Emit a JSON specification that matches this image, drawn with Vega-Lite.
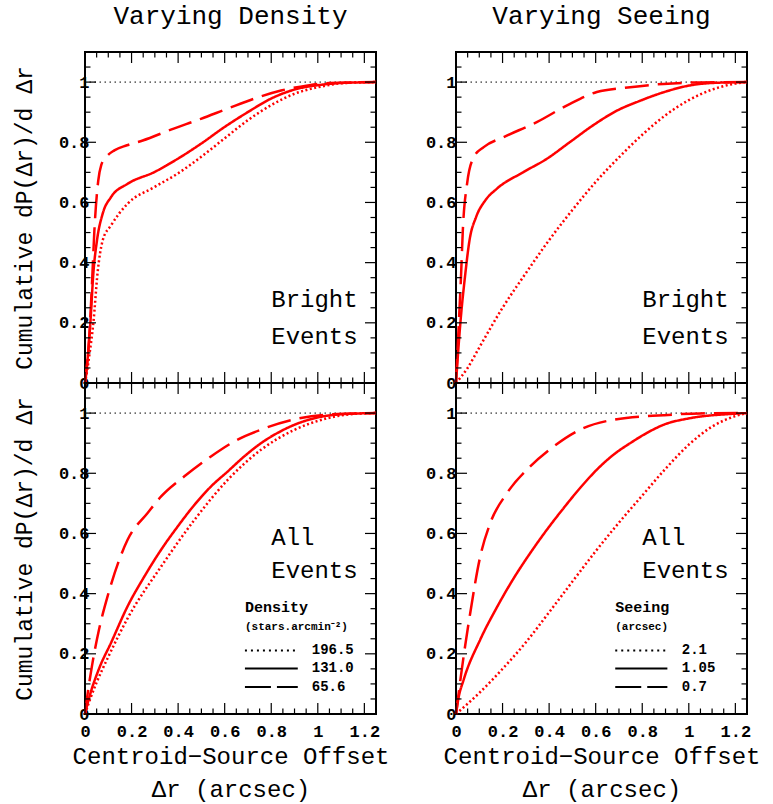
{
  "$schema": "https://vega.github.io/schema/vega-lite/v6.json",
  "background": "white",
  "padding": {"left": 12, "top": 2, "right": 5, "bottom": 5},
  "config": {"view": {"stroke": "black", "strokeWidth": 2}, "font": "Liberation Mono",
    "axis": {"domain": false, "grid": false, "ticks": false, "labelColor": "black", "titleColor": "black", "labelFlush": false, "labelOverlap": false}},
  "columns": 2,
  "spacing": {"row": 0, "column": 80},
  "bounds": "flush",
  "datasets": {
    "xmajor": [{"v": 0}, {"v": 0.2}, {"v": 0.4}, {"v": 0.6}, {"v": 0.8}, {"v": 1}, {"v": 1.2}],
    "xminor": [{"v": 0.05}, {"v": 0.1}, {"v": 0.15}, {"v": 0.25}, {"v": 0.3}, {"v": 0.35}, {"v": 0.45}, {"v": 0.5}, {"v": 0.55}, {"v": 0.65}, {"v": 0.7}, {"v": 0.75}, {"v": 0.85}, {"v": 0.9}, {"v": 0.95}, {"v": 1.05}, {"v": 1.1}, {"v": 1.15}],
    "ymajor": [{"v": 0}, {"v": 0.2}, {"v": 0.4}, {"v": 0.6}, {"v": 0.8}, {"v": 1}],
    "yminor": [{"v": 0.05}, {"v": 0.1}, {"v": 0.15}, {"v": 0.25}, {"v": 0.3}, {"v": 0.35}, {"v": 0.45}, {"v": 0.5}, {"v": 0.55}, {"v": 0.65}, {"v": 0.7}, {"v": 0.75}, {"v": 0.85}, {"v": 0.9}, {"v": 0.95}, {"v": 1.05}],
    "density_bright": [
      {"x": 0, "y": 0, "series": "131.0"}, {"x": 0.01, "y": 0.07, "series": "131.0"}, {"x": 0.023, "y": 0.2, "series": "131.0"}, {"x": 0.036, "y": 0.366, "series": "131.0"}, {"x": 0.0515, "y": 0.474, "series": "131.0"}, {"x": 0.076, "y": 0.563, "series": "131.0"}, {"x": 0.112, "y": 0.618, "series": "131.0"}, {"x": 0.183, "y": 0.662, "series": "131.0"}, {"x": 0.298, "y": 0.701, "series": "131.0"}, {"x": 0.398, "y": 0.745, "series": "131.0"}, {"x": 0.498, "y": 0.795, "series": "131.0"}, {"x": 0.598, "y": 0.85, "series": "131.0"}, {"x": 0.699, "y": 0.9, "series": "131.0"}, {"x": 0.799, "y": 0.945, "series": "131.0"}, {"x": 0.899, "y": 0.975, "series": "131.0"}, {"x": 1.014, "y": 0.991, "series": "131.0"}, {"x": 1.1, "y": 0.997, "series": "131.0"}, {"x": 1.25, "y": 1.0, "series": "131.0"},
      {"x": 0, "y": 0, "series": "65.6"}, {"x": 0.01, "y": 0.07, "series": "65.6"}, {"x": 0.018, "y": 0.149, "series": "65.6"}, {"x": 0.03, "y": 0.33, "series": "65.6"}, {"x": 0.04, "y": 0.502, "series": "65.6"}, {"x": 0.057, "y": 0.673, "series": "65.6"}, {"x": 0.07, "y": 0.725, "series": "65.6"}, {"x": 0.09, "y": 0.75, "series": "65.6"}, {"x": 0.126, "y": 0.773, "series": "65.6"}, {"x": 0.18, "y": 0.79, "series": "65.6"}, {"x": 0.248, "y": 0.806, "series": "65.6"}, {"x": 0.369, "y": 0.842, "series": "65.6"}, {"x": 0.498, "y": 0.878, "series": "65.6"}, {"x": 0.613, "y": 0.912, "series": "65.6"}, {"x": 0.727, "y": 0.945, "series": "65.6"}, {"x": 0.842, "y": 0.972, "series": "65.6"}, {"x": 0.957, "y": 0.989, "series": "65.6"}, {"x": 1.05, "y": 0.997, "series": "65.6"}, {"x": 1.25, "y": 1.0, "series": "65.6"},
      {"x": 0, "y": 0, "series": "196.5"}, {"x": 0.01, "y": 0.045, "series": "196.5"}, {"x": 0.02, "y": 0.1, "series": "196.5"}, {"x": 0.036, "y": 0.2, "series": "196.5"}, {"x": 0.054, "y": 0.366, "series": "196.5"}, {"x": 0.076, "y": 0.474, "series": "196.5"}, {"x": 0.112, "y": 0.524, "series": "196.5"}, {"x": 0.183, "y": 0.596, "series": "196.5"}, {"x": 0.298, "y": 0.651, "series": "196.5"}, {"x": 0.398, "y": 0.696, "series": "196.5"}, {"x": 0.498, "y": 0.751, "series": "196.5"}, {"x": 0.598, "y": 0.812, "series": "196.5"}, {"x": 0.699, "y": 0.873, "series": "196.5"}, {"x": 0.799, "y": 0.923, "series": "196.5"}, {"x": 0.899, "y": 0.961, "series": "196.5"}, {"x": 1.014, "y": 0.985, "series": "196.5"}, {"x": 1.1, "y": 0.996, "series": "196.5"}, {"x": 1.25, "y": 1.0, "series": "196.5"}
    ],
    "seeing_bright": [
      {"x": 0, "y": 0, "series": "1.05"}, {"x": 0.0185, "y": 0.197, "series": "1.05"}, {"x": 0.04, "y": 0.363, "series": "1.05"}, {"x": 0.058, "y": 0.474, "series": "1.05"}, {"x": 0.0866, "y": 0.552, "series": "1.05"}, {"x": 0.126, "y": 0.607, "series": "1.05"}, {"x": 0.176, "y": 0.646, "series": "1.05"}, {"x": 0.29, "y": 0.701, "series": "1.05"}, {"x": 0.39, "y": 0.745, "series": "1.05"}, {"x": 0.49, "y": 0.801, "series": "1.05"}, {"x": 0.59, "y": 0.857, "series": "1.05"}, {"x": 0.691, "y": 0.905, "series": "1.05"}, {"x": 0.791, "y": 0.938, "series": "1.05"}, {"x": 0.891, "y": 0.966, "series": "1.05"}, {"x": 1.005, "y": 0.989, "series": "1.05"}, {"x": 1.1, "y": 0.997, "series": "1.05"}, {"x": 1.25, "y": 1.0, "series": "1.05"},
      {"x": 0, "y": 0, "series": "0.7"}, {"x": 0.012, "y": 0.197, "series": "0.7"}, {"x": 0.022, "y": 0.363, "series": "0.7"}, {"x": 0.029, "y": 0.502, "series": "0.7"}, {"x": 0.0475, "y": 0.662, "series": "0.7"}, {"x": 0.076, "y": 0.75, "series": "0.7"}, {"x": 0.119, "y": 0.784, "series": "0.7"}, {"x": 0.204, "y": 0.817, "series": "0.7"}, {"x": 0.347, "y": 0.867, "series": "0.7"}, {"x": 0.49, "y": 0.928, "series": "0.7"}, {"x": 0.605, "y": 0.967, "series": "0.7"}, {"x": 0.748, "y": 0.983, "series": "0.7"}, {"x": 0.891, "y": 0.994, "series": "0.7"}, {"x": 1.05, "y": 0.999, "series": "0.7"}, {"x": 1.25, "y": 1.0, "series": "0.7"},
      {"x": 0, "y": 0, "series": "2.1"}, {"x": 0.05, "y": 0.05, "series": "2.1"}, {"x": 0.1, "y": 0.118, "series": "2.1"}, {"x": 0.2, "y": 0.25, "series": "2.1"}, {"x": 0.3, "y": 0.365, "series": "2.1"}, {"x": 0.4, "y": 0.475, "series": "2.1"}, {"x": 0.5, "y": 0.575, "series": "2.1"}, {"x": 0.6, "y": 0.668, "series": "2.1"}, {"x": 0.7, "y": 0.75, "series": "2.1"}, {"x": 0.8, "y": 0.825, "series": "2.1"}, {"x": 0.9, "y": 0.89, "series": "2.1"}, {"x": 1.0, "y": 0.94, "series": "2.1"}, {"x": 1.1, "y": 0.975, "series": "2.1"}, {"x": 1.2, "y": 0.995, "series": "2.1"}, {"x": 1.25, "y": 1.0, "series": "2.1"}
    ],
    "density_all": [
      {"x": 0, "y": 0, "series": "131.0"}, {"x": 0.02, "y": 0.06, "series": "131.0"}, {"x": 0.06, "y": 0.15, "series": "131.0"}, {"x": 0.112, "y": 0.237, "series": "131.0"}, {"x": 0.183, "y": 0.358, "series": "131.0"}, {"x": 0.255, "y": 0.457, "series": "131.0"}, {"x": 0.327, "y": 0.546, "series": "131.0"}, {"x": 0.398, "y": 0.623, "series": "131.0"}, {"x": 0.47, "y": 0.695, "series": "131.0"}, {"x": 0.541, "y": 0.756, "series": "131.0"}, {"x": 0.613, "y": 0.806, "series": "131.0"}, {"x": 0.684, "y": 0.856, "series": "131.0"}, {"x": 0.756, "y": 0.9, "series": "131.0"}, {"x": 0.827, "y": 0.934, "series": "131.0"}, {"x": 0.899, "y": 0.961, "series": "131.0"}, {"x": 0.985, "y": 0.983, "series": "131.0"}, {"x": 1.1, "y": 0.996, "series": "131.0"}, {"x": 1.25, "y": 1.0, "series": "131.0"},
      {"x": 0, "y": 0, "series": "65.6"}, {"x": 0.01, "y": 0.06, "series": "65.6"}, {"x": 0.03, "y": 0.16, "series": "65.6"}, {"x": 0.06, "y": 0.28, "series": "65.6"}, {"x": 0.097, "y": 0.391, "series": "65.6"}, {"x": 0.183, "y": 0.579, "series": "65.6"}, {"x": 0.269, "y": 0.668, "series": "65.6"}, {"x": 0.327, "y": 0.723, "series": "65.6"}, {"x": 0.427, "y": 0.79, "series": "65.6"}, {"x": 0.541, "y": 0.856, "series": "65.6"}, {"x": 0.656, "y": 0.912, "series": "65.6"}, {"x": 0.756, "y": 0.945, "series": "65.6"}, {"x": 0.899, "y": 0.979, "series": "65.6"}, {"x": 1.04, "y": 0.995, "series": "65.6"}, {"x": 1.25, "y": 1.0, "series": "65.6"},
      {"x": 0, "y": 0, "series": "196.5"}, {"x": 0.02, "y": 0.045, "series": "196.5"}, {"x": 0.05, "y": 0.105, "series": "196.5"}, {"x": 0.1, "y": 0.19, "series": "196.5"}, {"x": 0.183, "y": 0.318, "series": "196.5"}, {"x": 0.327, "y": 0.49, "series": "196.5"}, {"x": 0.47, "y": 0.645, "series": "196.5"}, {"x": 0.613, "y": 0.778, "series": "196.5"}, {"x": 0.756, "y": 0.878, "series": "196.5"}, {"x": 0.899, "y": 0.944, "series": "196.5"}, {"x": 1.042, "y": 0.983, "series": "196.5"}, {"x": 1.15, "y": 0.997, "series": "196.5"}, {"x": 1.25, "y": 1.0, "series": "196.5"}
    ],
    "seeing_all": [
      {"x": 0, "y": 0, "series": "1.05"}, {"x": 0.01, "y": 0.05, "series": "1.05"}, {"x": 0.033, "y": 0.114, "series": "1.05"}, {"x": 0.104, "y": 0.247, "series": "1.05"}, {"x": 0.176, "y": 0.355, "series": "1.05"}, {"x": 0.247, "y": 0.45, "series": "1.05"}, {"x": 0.319, "y": 0.535, "series": "1.05"}, {"x": 0.39, "y": 0.612, "series": "1.05"}, {"x": 0.462, "y": 0.684, "series": "1.05"}, {"x": 0.533, "y": 0.751, "series": "1.05"}, {"x": 0.605, "y": 0.812, "series": "1.05"}, {"x": 0.677, "y": 0.862, "series": "1.05"}, {"x": 0.748, "y": 0.9, "series": "1.05"}, {"x": 0.82, "y": 0.934, "series": "1.05"}, {"x": 0.891, "y": 0.961, "series": "1.05"}, {"x": 1.005, "y": 0.983, "series": "1.05"}, {"x": 1.177, "y": 0.997, "series": "1.05"}, {"x": 1.25, "y": 1.0, "series": "1.05"},
      {"x": 0, "y": 0, "series": "0.7"}, {"x": 0.01, "y": 0.06, "series": "0.7"}, {"x": 0.02, "y": 0.12, "series": "0.7"}, {"x": 0.04, "y": 0.23, "series": "0.7"}, {"x": 0.061, "y": 0.335, "series": "0.7"}, {"x": 0.104, "y": 0.523, "series": "0.7"}, {"x": 0.147, "y": 0.634, "series": "0.7"}, {"x": 0.219, "y": 0.734, "series": "0.7"}, {"x": 0.319, "y": 0.823, "series": "0.7"}, {"x": 0.419, "y": 0.889, "series": "0.7"}, {"x": 0.533, "y": 0.945, "series": "0.7"}, {"x": 0.677, "y": 0.978, "series": "0.7"}, {"x": 0.891, "y": 0.993, "series": "0.7"}, {"x": 1.05, "y": 0.999, "series": "0.7"}, {"x": 1.25, "y": 1.0, "series": "0.7"},
      {"x": 0, "y": 0, "series": "2.1"}, {"x": 0.1, "y": 0.07, "series": "2.1"}, {"x": 0.2, "y": 0.15, "series": "2.1"}, {"x": 0.3, "y": 0.238, "series": "2.1"}, {"x": 0.4, "y": 0.338, "series": "2.1"}, {"x": 0.5, "y": 0.44, "series": "2.1"}, {"x": 0.6, "y": 0.541, "series": "2.1"}, {"x": 0.7, "y": 0.636, "series": "2.1"}, {"x": 0.8, "y": 0.726, "series": "2.1"}, {"x": 0.9, "y": 0.815, "series": "2.1"}, {"x": 1.0, "y": 0.895, "series": "2.1"}, {"x": 1.1, "y": 0.955, "series": "2.1"}, {"x": 1.2, "y": 0.99, "series": "2.1"}, {"x": 1.25, "y": 1.0, "series": "2.1"}
    ]
  },
  "concat": [
    {
      "width": 291, "height": 331,
      "title": {"text": "Varying Density", "font": "Liberation Mono", "fontSize": 26, "fontWeight": "normal", "color": "black", "anchor": "middle", "frame": "group", "baseline": "alphabetic", "offset": 1},
      "layer": [
        {"data": {"values": [{}]}, "mark": {"type": "rule", "color": "black", "strokeWidth": 1, "strokeDash": [1.5, 3.5]},
         "encoding": {"y": {"datum": 1, "type": "quantitative", "axis": null, "scale": {"domain": [0, 1.1], "nice": false, "zero": false}}}},
        {"data": {"name": "density_bright"}, "mark": {"type": "line", "color": "#ff0000", "strokeWidth": 2.5, "interpolate": "monotone"},
         "encoding": {
           "x": {"field": "x", "type": "quantitative", "scale": {"domain": [0, 1.25], "nice": false}, "axis": null},
           "y": {"field": "y", "type": "quantitative", "scale": {"domain": [0, 1.1], "nice": false},
                 "axis": {"orient": "left", "values": [0, 0.2, 0.4, 0.6, 0.8, 1], "format": "~g", "labelFont": "Liberation Mono", "labelFontWeight": "bold", "labelFontSize": 17, "labelPadding": -4, "title": "Cumulative dP(Δr)/d Δr", "titleFont": "Liberation Mono", "titleFontSize": 23, "titleFontWeight": "normal", "titlePadding": 22}},
           "strokeDash": {"field": "series", "type": "nominal", "scale": {"domain": ["196.5", "131.0", "65.6"], "range": [[2, 2.5], [1, 0], [24, 9]]}, "legend": null}
         }},
        {"data": {"name": "xmajor"}, "mark": {"type": "rule", "color": "black", "strokeWidth": 1.2}, "encoding": {"x": {"field": "v", "type": "quantitative", "axis": null}, "y": {"datum": 0, "type": "quantitative", "axis": null}, "y2": {"datum": 0.0365}}},
        {"data": {"name": "xminor"}, "mark": {"type": "rule", "color": "black", "strokeWidth": 1.2}, "encoding": {"x": {"field": "v", "type": "quantitative", "axis": null}, "y": {"datum": 0, "type": "quantitative", "axis": null}, "y2": {"datum": 0.0183}}},
        {"data": {"name": "xmajor"}, "mark": {"type": "rule", "color": "black", "strokeWidth": 1.2}, "encoding": {"x": {"field": "v", "type": "quantitative", "axis": null}, "y": {"datum": 1.1, "type": "quantitative", "axis": null}, "y2": {"datum": 1.0635}}},
        {"data": {"name": "xminor"}, "mark": {"type": "rule", "color": "black", "strokeWidth": 1.2}, "encoding": {"x": {"field": "v", "type": "quantitative", "axis": null}, "y": {"datum": 1.1, "type": "quantitative", "axis": null}, "y2": {"datum": 1.0817}}},
        {"data": {"name": "ymajor"}, "mark": {"type": "rule", "color": "black", "strokeWidth": 1.2}, "encoding": {"y": {"field": "v", "type": "quantitative", "axis": null}, "x": {"datum": 0, "type": "quantitative", "axis": null}, "x2": {"datum": 0.0473}}},
        {"data": {"name": "yminor"}, "mark": {"type": "rule", "color": "black", "strokeWidth": 1.2}, "encoding": {"y": {"field": "v", "type": "quantitative", "axis": null}, "x": {"datum": 0, "type": "quantitative", "axis": null}, "x2": {"datum": 0.0236}}},
        {"data": {"name": "ymajor"}, "mark": {"type": "rule", "color": "black", "strokeWidth": 1.2}, "encoding": {"y": {"field": "v", "type": "quantitative", "axis": null}, "x": {"datum": 1.25, "type": "quantitative", "axis": null}, "x2": {"datum": 1.2027}}},
        {"data": {"name": "yminor"}, "mark": {"type": "rule", "color": "black", "strokeWidth": 1.2}, "encoding": {"y": {"field": "v", "type": "quantitative", "axis": null}, "x": {"datum": 1.25, "type": "quantitative", "axis": null}, "x2": {"datum": 1.2264}}},
        {"data": {"values": [{}]}, "mark": {"type": "text", "align": "left", "baseline": "alphabetic", "font": "Liberation Mono", "fontSize": 24, "lineHeight": 36.5, "color": "black"},
         "encoding": {"x": {"datum": 0.8, "type": "quantitative", "axis": null}, "y": {"datum": 0.2525, "type": "quantitative", "axis": null}, "text": {"value": ["Bright", "Events"]}}}
      ],
      "resolve": {"axis": {"x": "independent", "y": "independent"}}
    },
    {
      "width": 291, "height": 331,
      "title": {"text": "Varying Seeing", "font": "Liberation Mono", "fontSize": 26, "fontWeight": "normal", "color": "black", "anchor": "middle", "frame": "group", "baseline": "alphabetic", "offset": 1},
      "layer": [
        {"data": {"values": [{}]}, "mark": {"type": "rule", "color": "black", "strokeWidth": 1, "strokeDash": [1.5, 3.5]},
         "encoding": {"y": {"datum": 1, "type": "quantitative", "axis": null, "scale": {"domain": [0, 1.1], "nice": false, "zero": false}}}},
        {"data": {"name": "seeing_bright"}, "mark": {"type": "line", "color": "#ff0000", "strokeWidth": 2.5, "interpolate": "monotone"},
         "encoding": {
           "x": {"field": "x", "type": "quantitative", "scale": {"domain": [0, 1.25], "nice": false}, "axis": null},
           "y": {"field": "y", "type": "quantitative", "scale": {"domain": [0, 1.1], "nice": false},
                 "axis": {"orient": "left", "values": [0, 0.2, 0.4, 0.6, 0.8, 1], "format": "~g", "labelFont": "Liberation Mono", "labelFontWeight": "bold", "labelFontSize": 17, "labelPadding": 0, "title": null}},
           "strokeDash": {"field": "series", "type": "nominal", "scale": {"domain": ["2.1", "1.05", "0.7"], "range": [[2, 2.5], [1, 0], [24, 9]]}, "legend": null}
         }},
        {"data": {"name": "xmajor"}, "mark": {"type": "rule", "color": "black", "strokeWidth": 1.2}, "encoding": {"x": {"field": "v", "type": "quantitative", "axis": null}, "y": {"datum": 0, "type": "quantitative", "axis": null}, "y2": {"datum": 0.0365}}},
        {"data": {"name": "xminor"}, "mark": {"type": "rule", "color": "black", "strokeWidth": 1.2}, "encoding": {"x": {"field": "v", "type": "quantitative", "axis": null}, "y": {"datum": 0, "type": "quantitative", "axis": null}, "y2": {"datum": 0.0183}}},
        {"data": {"name": "xmajor"}, "mark": {"type": "rule", "color": "black", "strokeWidth": 1.2}, "encoding": {"x": {"field": "v", "type": "quantitative", "axis": null}, "y": {"datum": 1.1, "type": "quantitative", "axis": null}, "y2": {"datum": 1.0635}}},
        {"data": {"name": "xminor"}, "mark": {"type": "rule", "color": "black", "strokeWidth": 1.2}, "encoding": {"x": {"field": "v", "type": "quantitative", "axis": null}, "y": {"datum": 1.1, "type": "quantitative", "axis": null}, "y2": {"datum": 1.0817}}},
        {"data": {"name": "ymajor"}, "mark": {"type": "rule", "color": "black", "strokeWidth": 1.2}, "encoding": {"y": {"field": "v", "type": "quantitative", "axis": null}, "x": {"datum": 0, "type": "quantitative", "axis": null}, "x2": {"datum": 0.0473}}},
        {"data": {"name": "yminor"}, "mark": {"type": "rule", "color": "black", "strokeWidth": 1.2}, "encoding": {"y": {"field": "v", "type": "quantitative", "axis": null}, "x": {"datum": 0, "type": "quantitative", "axis": null}, "x2": {"datum": 0.0236}}},
        {"data": {"name": "ymajor"}, "mark": {"type": "rule", "color": "black", "strokeWidth": 1.2}, "encoding": {"y": {"field": "v", "type": "quantitative", "axis": null}, "x": {"datum": 1.25, "type": "quantitative", "axis": null}, "x2": {"datum": 1.2027}}},
        {"data": {"name": "yminor"}, "mark": {"type": "rule", "color": "black", "strokeWidth": 1.2}, "encoding": {"y": {"field": "v", "type": "quantitative", "axis": null}, "x": {"datum": 1.25, "type": "quantitative", "axis": null}, "x2": {"datum": 1.2264}}},
        {"data": {"values": [{}]}, "mark": {"type": "text", "align": "left", "baseline": "alphabetic", "font": "Liberation Mono", "fontSize": 24, "lineHeight": 36.5, "color": "black"},
         "encoding": {"x": {"datum": 0.8, "type": "quantitative", "axis": null}, "y": {"datum": 0.2525, "type": "quantitative", "axis": null}, "text": {"value": ["Bright", "Events"]}}}
      ],
      "resolve": {"axis": {"x": "independent", "y": "independent"}}
    },
    {
      "width": 291, "height": 331,
      "layer": [
        {"data": {"values": [{}]}, "mark": {"type": "rule", "color": "black", "strokeWidth": 1, "strokeDash": [1.5, 3.5]},
         "encoding": {"y": {"datum": 1, "type": "quantitative", "axis": null, "scale": {"domain": [0, 1.1], "nice": false, "zero": false}}}},
        {"data": {"name": "density_all"}, "mark": {"type": "line", "color": "#ff0000", "strokeWidth": 2.5, "interpolate": "monotone"},
         "encoding": {
           "x": {"field": "x", "type": "quantitative", "scale": {"domain": [0, 1.25], "nice": false},
                 "axis": {"orient": "bottom", "values": [0, 0.2, 0.4, 0.6, 0.8, 1, 1.2], "format": "~g", "labelFont": "Liberation Mono", "labelFontWeight": "bold", "labelFontSize": 17, "labelPadding": 9, "title": ["Centroid−Source Offset", "Δr (arcsec)"], "titleFont": "Liberation Mono", "titleFontSize": 24, "titleFontWeight": "normal", "titleLineHeight": 33, "titlePadding": 5}},
           "y": {"field": "y", "type": "quantitative", "scale": {"domain": [0, 1.1], "nice": false},
                 "axis": {"orient": "left", "values": [0, 0.2, 0.4, 0.6, 0.8, 1], "format": "~g", "labelFont": "Liberation Mono", "labelFontWeight": "bold", "labelFontSize": 17, "labelPadding": -4, "title": "Cumulative dP(Δr)/d Δr", "titleFont": "Liberation Mono", "titleFontSize": 23, "titleFontWeight": "normal", "titlePadding": 22}},
           "strokeDash": {"field": "series", "type": "nominal", "scale": {"domain": ["196.5", "131.0", "65.6"], "range": [[2, 2.5], [1, 0], [24, 9]]}, "legend": null}
         }},
        {"data": {"name": "xmajor"}, "mark": {"type": "rule", "color": "black", "strokeWidth": 1.2}, "encoding": {"x": {"field": "v", "type": "quantitative", "axis": null}, "y": {"datum": 0, "type": "quantitative", "axis": null}, "y2": {"datum": 0.0365}}},
        {"data": {"name": "xminor"}, "mark": {"type": "rule", "color": "black", "strokeWidth": 1.2}, "encoding": {"x": {"field": "v", "type": "quantitative", "axis": null}, "y": {"datum": 0, "type": "quantitative", "axis": null}, "y2": {"datum": 0.0183}}},
        {"data": {"name": "xmajor"}, "mark": {"type": "rule", "color": "black", "strokeWidth": 1.2}, "encoding": {"x": {"field": "v", "type": "quantitative", "axis": null}, "y": {"datum": 1.1, "type": "quantitative", "axis": null}, "y2": {"datum": 1.0635}}},
        {"data": {"name": "xminor"}, "mark": {"type": "rule", "color": "black", "strokeWidth": 1.2}, "encoding": {"x": {"field": "v", "type": "quantitative", "axis": null}, "y": {"datum": 1.1, "type": "quantitative", "axis": null}, "y2": {"datum": 1.0817}}},
        {"data": {"name": "ymajor"}, "mark": {"type": "rule", "color": "black", "strokeWidth": 1.2}, "encoding": {"y": {"field": "v", "type": "quantitative", "axis": null}, "x": {"datum": 0, "type": "quantitative", "axis": null}, "x2": {"datum": 0.0473}}},
        {"data": {"name": "yminor"}, "mark": {"type": "rule", "color": "black", "strokeWidth": 1.2}, "encoding": {"y": {"field": "v", "type": "quantitative", "axis": null}, "x": {"datum": 0, "type": "quantitative", "axis": null}, "x2": {"datum": 0.0236}}},
        {"data": {"name": "ymajor"}, "mark": {"type": "rule", "color": "black", "strokeWidth": 1.2}, "encoding": {"y": {"field": "v", "type": "quantitative", "axis": null}, "x": {"datum": 1.25, "type": "quantitative", "axis": null}, "x2": {"datum": 1.2027}}},
        {"data": {"name": "yminor"}, "mark": {"type": "rule", "color": "black", "strokeWidth": 1.2}, "encoding": {"y": {"field": "v", "type": "quantitative", "axis": null}, "x": {"datum": 1.25, "type": "quantitative", "axis": null}, "x2": {"datum": 1.2264}}},
        {"data": {"values": [{}]}, "mark": {"type": "text", "align": "left", "baseline": "alphabetic", "font": "Liberation Mono", "fontSize": 24, "lineHeight": 32.6, "color": "black"},
         "encoding": {"x": {"datum": 0.8, "type": "quantitative", "axis": null}, "y": {"datum": 0.56, "type": "quantitative", "axis": null}, "text": {"value": ["All", "Events"]}}},
        {"data": {"values": [{}]}, "mark": {"type": "text", "align": "left", "baseline": "alphabetic", "font": "Liberation Mono", "fontWeight": "bold", "fontSize": 15, "color": "black"},
         "encoding": {"x": {"datum": 0.687, "type": "quantitative", "axis": null}, "y": {"datum": 0.34, "type": "quantitative", "axis": null}, "text": {"value": "Density"}}},
        {"data": {"values": [{}]}, "mark": {"type": "text", "align": "left", "baseline": "alphabetic", "font": "Liberation Mono", "fontWeight": "bold", "fontSize": 11, "color": "black"},
         "encoding": {"x": {"datum": 0.687, "type": "quantitative", "axis": null}, "y": {"datum": 0.28, "type": "quantitative", "axis": null}, "text": {"value": "(stars.arcmin⁻²)"}}},
        {"data": {"values": [{}]}, "mark": {"type": "rule", "color": "black", "strokeWidth": 2, "strokeDash": [2, 4]},
         "encoding": {"x": {"datum": 0.687, "type": "quantitative", "axis": null}, "x2": {"datum": 0.914}, "y": {"datum": 0.2113, "type": "quantitative", "axis": null}}},
        {"data": {"values": [{}]}, "mark": {"type": "rule", "color": "black", "strokeWidth": 2},
         "encoding": {"x": {"datum": 0.687, "type": "quantitative", "axis": null}, "x2": {"datum": 0.914}, "y": {"datum": 0.1515, "type": "quantitative", "axis": null}}},
        {"data": {"values": [{}]}, "mark": {"type": "rule", "color": "black", "strokeWidth": 2, "strokeDash": [26, 6]},
         "encoding": {"x": {"datum": 0.687, "type": "quantitative", "axis": null}, "x2": {"datum": 0.914}, "y": {"datum": 0.0897, "type": "quantitative", "axis": null}}},
        {"data": {"values": [{}]}, "mark": {"type": "text", "align": "left", "baseline": "middle", "font": "Liberation Mono", "fontWeight": "bold", "fontSize": 14, "color": "black"},
         "encoding": {"x": {"datum": 0.974, "type": "quantitative", "axis": null}, "y": {"datum": 0.2113, "type": "quantitative", "axis": null}, "text": {"value": "196.5"}}},
        {"data": {"values": [{}]}, "mark": {"type": "text", "align": "left", "baseline": "middle", "font": "Liberation Mono", "fontWeight": "bold", "fontSize": 14, "color": "black"},
         "encoding": {"x": {"datum": 0.974, "type": "quantitative", "axis": null}, "y": {"datum": 0.1515, "type": "quantitative", "axis": null}, "text": {"value": "131.0"}}},
        {"data": {"values": [{}]}, "mark": {"type": "text", "align": "left", "baseline": "middle", "font": "Liberation Mono", "fontWeight": "bold", "fontSize": 14, "color": "black"},
         "encoding": {"x": {"datum": 0.974, "type": "quantitative", "axis": null}, "y": {"datum": 0.0897, "type": "quantitative", "axis": null}, "text": {"value": "65.6"}}}
      ],
      "resolve": {"axis": {"x": "independent", "y": "independent"}}
    },
    {
      "width": 291, "height": 331,
      "layer": [
        {"data": {"values": [{}]}, "mark": {"type": "rule", "color": "black", "strokeWidth": 1, "strokeDash": [1.5, 3.5]},
         "encoding": {"y": {"datum": 1, "type": "quantitative", "axis": null, "scale": {"domain": [0, 1.1], "nice": false, "zero": false}}}},
        {"data": {"name": "seeing_all"}, "mark": {"type": "line", "color": "#ff0000", "strokeWidth": 2.5, "interpolate": "monotone"},
         "encoding": {
           "x": {"field": "x", "type": "quantitative", "scale": {"domain": [0, 1.25], "nice": false},
                 "axis": {"orient": "bottom", "values": [0, 0.2, 0.4, 0.6, 0.8, 1, 1.2], "format": "~g", "labelFont": "Liberation Mono", "labelFontWeight": "bold", "labelFontSize": 17, "labelPadding": 9, "title": ["Centroid−Source Offset", "Δr (arcsec)"], "titleFont": "Liberation Mono", "titleFontSize": 24, "titleFontWeight": "normal", "titleLineHeight": 33, "titlePadding": 5}},
           "y": {"field": "y", "type": "quantitative", "scale": {"domain": [0, 1.1], "nice": false},
                 "axis": {"orient": "left", "values": [0, 0.2, 0.4, 0.6, 0.8, 1], "format": "~g", "labelFont": "Liberation Mono", "labelFontWeight": "bold", "labelFontSize": 17, "labelPadding": 0, "title": null}},
           "strokeDash": {"field": "series", "type": "nominal", "scale": {"domain": ["2.1", "1.05", "0.7"], "range": [[2, 2.5], [1, 0], [24, 9]]}, "legend": null}
         }},
        {"data": {"name": "xmajor"}, "mark": {"type": "rule", "color": "black", "strokeWidth": 1.2}, "encoding": {"x": {"field": "v", "type": "quantitative", "axis": null}, "y": {"datum": 0, "type": "quantitative", "axis": null}, "y2": {"datum": 0.0365}}},
        {"data": {"name": "xminor"}, "mark": {"type": "rule", "color": "black", "strokeWidth": 1.2}, "encoding": {"x": {"field": "v", "type": "quantitative", "axis": null}, "y": {"datum": 0, "type": "quantitative", "axis": null}, "y2": {"datum": 0.0183}}},
        {"data": {"name": "xmajor"}, "mark": {"type": "rule", "color": "black", "strokeWidth": 1.2}, "encoding": {"x": {"field": "v", "type": "quantitative", "axis": null}, "y": {"datum": 1.1, "type": "quantitative", "axis": null}, "y2": {"datum": 1.0635}}},
        {"data": {"name": "xminor"}, "mark": {"type": "rule", "color": "black", "strokeWidth": 1.2}, "encoding": {"x": {"field": "v", "type": "quantitative", "axis": null}, "y": {"datum": 1.1, "type": "quantitative", "axis": null}, "y2": {"datum": 1.0817}}},
        {"data": {"name": "ymajor"}, "mark": {"type": "rule", "color": "black", "strokeWidth": 1.2}, "encoding": {"y": {"field": "v", "type": "quantitative", "axis": null}, "x": {"datum": 0, "type": "quantitative", "axis": null}, "x2": {"datum": 0.0473}}},
        {"data": {"name": "yminor"}, "mark": {"type": "rule", "color": "black", "strokeWidth": 1.2}, "encoding": {"y": {"field": "v", "type": "quantitative", "axis": null}, "x": {"datum": 0, "type": "quantitative", "axis": null}, "x2": {"datum": 0.0236}}},
        {"data": {"name": "ymajor"}, "mark": {"type": "rule", "color": "black", "strokeWidth": 1.2}, "encoding": {"y": {"field": "v", "type": "quantitative", "axis": null}, "x": {"datum": 1.25, "type": "quantitative", "axis": null}, "x2": {"datum": 1.2027}}},
        {"data": {"name": "yminor"}, "mark": {"type": "rule", "color": "black", "strokeWidth": 1.2}, "encoding": {"y": {"field": "v", "type": "quantitative", "axis": null}, "x": {"datum": 1.25, "type": "quantitative", "axis": null}, "x2": {"datum": 1.2264}}},
        {"data": {"values": [{}]}, "mark": {"type": "text", "align": "left", "baseline": "alphabetic", "font": "Liberation Mono", "fontSize": 24, "lineHeight": 32.6, "color": "black"},
         "encoding": {"x": {"datum": 0.8, "type": "quantitative", "axis": null}, "y": {"datum": 0.56, "type": "quantitative", "axis": null}, "text": {"value": ["All", "Events"]}}},
        {"data": {"values": [{}]}, "mark": {"type": "text", "align": "left", "baseline": "alphabetic", "font": "Liberation Mono", "fontWeight": "bold", "fontSize": 15, "color": "black"},
         "encoding": {"x": {"datum": 0.684, "type": "quantitative", "axis": null}, "y": {"datum": 0.34, "type": "quantitative", "axis": null}, "text": {"value": "Seeing"}}},
        {"data": {"values": [{}]}, "mark": {"type": "text", "align": "left", "baseline": "alphabetic", "font": "Liberation Mono", "fontWeight": "bold", "fontSize": 11, "color": "black"},
         "encoding": {"x": {"datum": 0.684, "type": "quantitative", "axis": null}, "y": {"datum": 0.28, "type": "quantitative", "axis": null}, "text": {"value": "(arcsec)"}}},
        {"data": {"values": [{}]}, "mark": {"type": "rule", "color": "black", "strokeWidth": 2, "strokeDash": [2, 4]},
         "encoding": {"x": {"datum": 0.684, "type": "quantitative", "axis": null}, "x2": {"datum": 0.908}, "y": {"datum": 0.2113, "type": "quantitative", "axis": null}}},
        {"data": {"values": [{}]}, "mark": {"type": "rule", "color": "black", "strokeWidth": 2},
         "encoding": {"x": {"datum": 0.684, "type": "quantitative", "axis": null}, "x2": {"datum": 0.908}, "y": {"datum": 0.1515, "type": "quantitative", "axis": null}}},
        {"data": {"values": [{}]}, "mark": {"type": "rule", "color": "black", "strokeWidth": 2, "strokeDash": [26, 6]},
         "encoding": {"x": {"datum": 0.684, "type": "quantitative", "axis": null}, "x2": {"datum": 0.908}, "y": {"datum": 0.0897, "type": "quantitative", "axis": null}}},
        {"data": {"values": [{}]}, "mark": {"type": "text", "align": "left", "baseline": "middle", "font": "Liberation Mono", "fontWeight": "bold", "fontSize": 14, "color": "black"},
         "encoding": {"x": {"datum": 0.97, "type": "quantitative", "axis": null}, "y": {"datum": 0.2113, "type": "quantitative", "axis": null}, "text": {"value": "2.1"}}},
        {"data": {"values": [{}]}, "mark": {"type": "text", "align": "left", "baseline": "middle", "font": "Liberation Mono", "fontWeight": "bold", "fontSize": 14, "color": "black"},
         "encoding": {"x": {"datum": 0.97, "type": "quantitative", "axis": null}, "y": {"datum": 0.1515, "type": "quantitative", "axis": null}, "text": {"value": "1.05"}}},
        {"data": {"values": [{}]}, "mark": {"type": "text", "align": "left", "baseline": "middle", "font": "Liberation Mono", "fontWeight": "bold", "fontSize": 14, "color": "black"},
         "encoding": {"x": {"datum": 0.97, "type": "quantitative", "axis": null}, "y": {"datum": 0.0897, "type": "quantitative", "axis": null}, "text": {"value": "0.7"}}}
      ],
      "resolve": {"axis": {"x": "independent", "y": "independent"}}
    }
  ]
}
